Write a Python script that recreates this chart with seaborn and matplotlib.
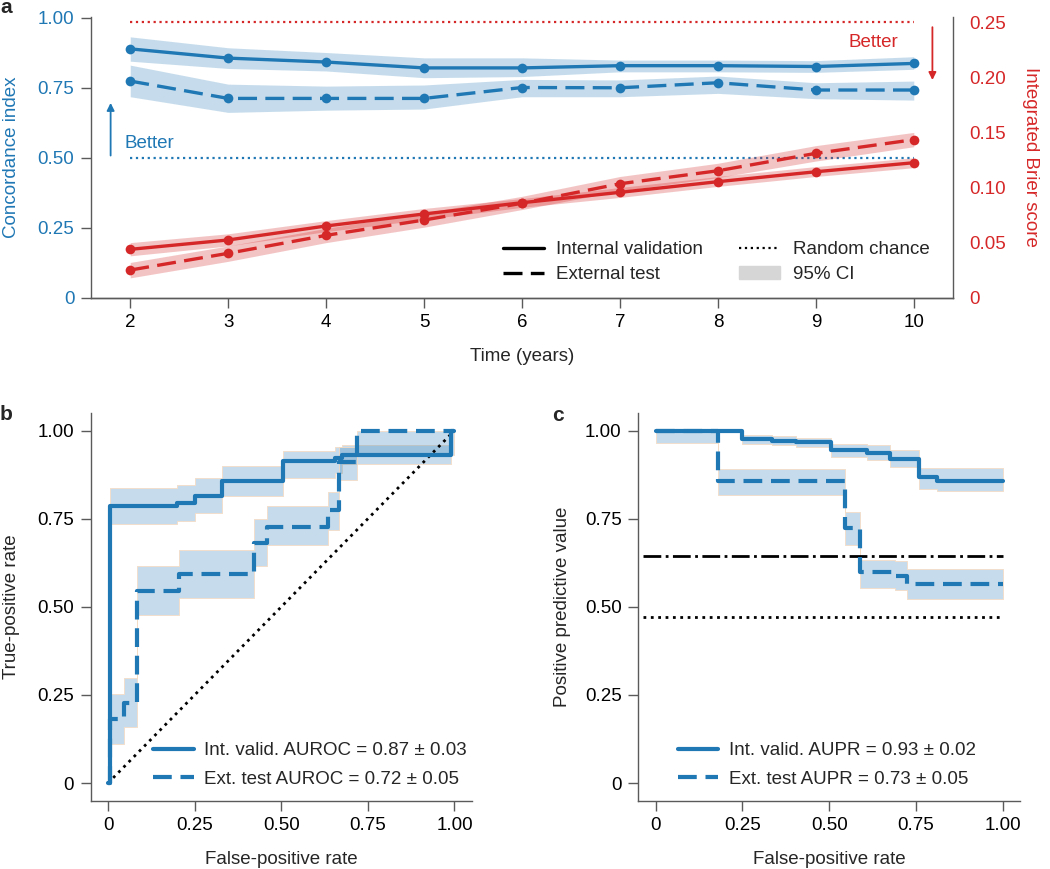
import numpy as np
import pandas as pd
import seaborn as sns
import matplotlib.pyplot as plt
from matplotlib.lines import Line2D
from matplotlib.patches import Patch

# ---------------- data ----------------
# a: time-dependent metrics
years = [2, 3, 4, 5, 6, 7, 8, 9, 10]
cidx_int = [0.889, 0.856, 0.842, 0.821, 0.821, 0.829, 0.829, 0.826, 0.837]
cidx_int_lo = [0.845, 0.819, 0.810, 0.786, 0.790, 0.807, 0.807, 0.805, 0.816]
cidx_int_hi = [0.932, 0.893, 0.876, 0.857, 0.857, 0.849, 0.849, 0.847, 0.861]
cidx_ext = [0.774, 0.712, 0.712, 0.712, 0.751, 0.750, 0.768, 0.742, 0.742]
cidx_ext_lo = [0.718, 0.662, 0.670, 0.674, 0.718, 0.718, 0.730, 0.711, 0.706]
cidx_ext_hi = [0.831, 0.763, 0.756, 0.760, 0.780, 0.778, 0.792, 0.768, 0.774]
brier_int = [0.0439, 0.0524, 0.0651, 0.0760, 0.0862, 0.0956, 0.1053, 0.1143, 0.1225]
brier_int_lo = [0.038, 0.047, 0.060, 0.071, 0.082, 0.091, 0.101, 0.110, 0.118]
brier_int_hi = [0.050, 0.058, 0.070, 0.081, 0.090, 0.100, 0.110, 0.119, 0.127]
brier_ext = [0.0251, 0.0403, 0.0566, 0.0705, 0.0857, 0.1034, 0.1152, 0.1310, 0.1434]
brier_ext_lo = [0.018, 0.033, 0.050, 0.064, 0.080, 0.097, 0.109, 0.124, 0.137]
brier_ext_hi = [0.032, 0.047, 0.063, 0.077, 0.092, 0.110, 0.122, 0.138, 0.150]
cidx_chance = 0.5
brier_chance = 0.25

# b: ROC curves (step points)
roc_int_x = [0, 0.007, 0.20, 0.25, 0.33, 0.505, 0.655, 0.675, 0.99, 1.0]
roc_int_y = [0, 0.785, 0.795, 0.815, 0.857, 0.913, 0.922, 0.932, 1.0, 1.0]
roc_int_lo = [0, 0.735, 0.745, 0.765, 0.815, 0.865, 0.880, 0.905, 1.0, 1.0]
roc_int_hi = [0, 0.837, 0.846, 0.866, 0.899, 0.943, 0.955, 0.958, 1.0, 1.0]
roc_ext_x = [0, 0.007, 0.045, 0.085, 0.205, 0.42, 0.46, 0.635, 0.668, 0.72, 1.0]
roc_ext_y = [0, 0.183, 0.228, 0.545, 0.592, 0.68, 0.728, 0.775, 0.912, 1.0, 1.0]
roc_ext_lo = [0, 0.112, 0.159, 0.477, 0.524, 0.615, 0.676, 0.718, 0.861, 0.93, 0.93]
roc_ext_hi = [0, 0.254, 0.299, 0.617, 0.662, 0.750, 0.785, 0.827, 0.955, 1.0, 1.0]
roc_chance = [0, 1]

# c: precision curves (step points)
pr_int_x = [0, 0.25, 0.335, 0.405, 0.505, 0.61, 0.675, 0.76, 0.81, 1.0]
pr_int_y = [1.0, 0.977, 0.972, 0.968, 0.945, 0.937, 0.920, 0.869, 0.858, 0.858]
pr_int_lo = [1.0, 0.962, 0.958, 0.955, 0.925, 0.918, 0.898, 0.835, 0.830, 0.830]
pr_int_hi = [1.0, 0.988, 0.985, 0.980, 0.962, 0.958, 0.944, 0.895, 0.895, 0.895]
pr_ext_x = [0, 0.18, 0.545, 0.59, 0.69, 0.725, 1.0]
pr_ext_y = [1.0, 0.856, 0.723, 0.599, 0.588, 0.565, 0.565]
pr_ext_lo = [0.965, 0.818, 0.676, 0.553, 0.548, 0.521, 0.521]
pr_ext_hi = [1.0, 0.892, 0.768, 0.633, 0.630, 0.607, 0.607]
ppv_chance_int = 0.47
ppv_chance_ext = 0.643
ppv_line_x = [-0.035, 1.0]

# tick labels
year_ticks = years
cidx_ticks = [0, 0.25, 0.5, 0.75, 1.0]
cidx_ticklabels = ['0', '0.25', '0.50', '0.75', '1.00']
brier_ticks = [0, 0.05, 0.10, 0.15, 0.20, 0.25]
brier_ticklabels = ['0', '0.05', '0.10', '0.15', '0.20', '0.25']
rate_ticks = [0, 0.25, 0.5, 0.75, 1.0]
rate_ticklabels = ['0', '0.25', '0.50', '0.75', '1.00']

leg_a_labels = ['Internal validation', 'External test', 'Random chance', '95% CI']
leg_b_labels = ['Int. valid. AUROC = 0.87 \u00b1 0.03', 'Ext. test AUROC = 0.72 \u00b1 0.05']
leg_c_labels = ['Int. valid. AUPR = 0.93 \u00b1 0.02', 'Ext. test AUPR = 0.73 \u00b1 0.05']

# ---------------- style ----------------
BLUE = '#1f77b4'
RED = '#d62728'
GREY = '#5a5a5a'
BAND_B = (31 / 255, 119 / 255, 180 / 255, 0.25)
BAND_R = (214 / 255, 39 / 255, 40 / 255, 0.27)

sns.set_style('ticks')
plt.rcParams['font.family'] = ['Liberation Sans', 'DejaVu Sans']
plt.rcParams.update({
    'font.size': 13,
    'axes.edgecolor': GREY,
    'axes.linewidth': 1.0,
    'xtick.color': GREY, 'ytick.color': GREY,
    'xtick.labelcolor': 'black', 'ytick.labelcolor': 'black',
    'xtick.major.size': 7, 'ytick.major.size': 7,
    'xtick.major.width': 1.0, 'ytick.major.width': 1.0,
    'xtick.major.pad': 5, 'ytick.major.pad': 5,
    'xtick.labelsize': 13.5, 'ytick.labelsize': 13.5,
})

DASH_A = (0, (5.7, 2.5))
DASH_B = (0, (4.5, 2.1))

fig = plt.figure(figsize=(10.5, 8.69), dpi=100)

# ---------------- a ----------------
ax = fig.add_axes([0.0867, 0.6574, 0.8209, 0.3234])
ax2 = ax.twinx()

ax.hlines(cidx_chance, years[0], years[-1], color=BLUE, ls=':', lw=1.6)
ax.fill_between(years, cidx_int_lo, cidx_int_hi, color=BAND_B, lw=0)
ax.fill_between(years, cidx_ext_lo, cidx_ext_hi, color=BAND_B, lw=0)
sns.lineplot(x=years, y=cidx_int, ax=ax, color=BLUE, lw=2.4, marker='o', ms=7, mew=0,
             errorbar=None)
sns.lineplot(x=years, y=cidx_ext, ax=ax, color=BLUE, lw=2.4, ls=DASH_A, marker='o', ms=7,
             mew=0, errorbar=None)

ax2.hlines(brier_chance, years[0], years[-1], color=RED, ls=':', lw=1.6)
ax2.fill_between(years, brier_int_lo, brier_int_hi, color=BAND_R, lw=0)
ax2.fill_between(years, brier_ext_lo, brier_ext_hi, color=BAND_R, lw=0)
sns.lineplot(x=years, y=brier_int, ax=ax2, color=RED, lw=2.4, marker='o', ms=7, mew=0,
             errorbar=None)
sns.lineplot(x=years, y=brier_ext, ax=ax2, color=RED, lw=2.4, ls=DASH_A, marker='o', ms=7,
             mew=0, errorbar=None)

ax.set_xlim(1.6, 10.4)
ax.set_ylim(0, 1.004)
ax2.set_ylim(0, 0.255)
ax.set_xticks(year_ticks)
ax.set_yticks(cidx_ticks)
ax.set_yticklabels(cidx_ticklabels)
ax.tick_params(axis='y', labelcolor=BLUE)
ax2.set_yticks(brier_ticks)
ax2.set_yticklabels(brier_ticklabels)
ax2.tick_params(axis='y', labelcolor=RED)
sns.despine(ax=ax, top=True, right=True)
sns.despine(ax=ax2, top=True, right=False, left=True)

ax.set_xlabel('Time (years)', fontsize=13.5, va='top')
ax.xaxis.set_label_coords(0.5, -0.178)
ax.set_ylabel('Concordance index', color=BLUE, fontsize=13.5)
ax.yaxis.set_label_coords(-0.082, 0.5)
ax2.set_ylabel('Integrated Brier score', color=RED, fontsize=13.5, rotation=270, va='bottom')
ax2.yaxis.set_label_coords(1.0795, 0.5)

ax.annotate('', xy=(1.80, 0.706), xytext=(1.80, 0.498),
            arrowprops=dict(arrowstyle='-|>', color=BLUE, lw=1.3, mutation_scale=11))
ax.text(1.94, 0.552, 'Better', color=BLUE, fontsize=13.5, ha='left', va='center')
ax2.annotate('', xy=(10.19, 0.195), xytext=(10.19, 0.248),
             arrowprops=dict(arrowstyle='-|>', color=RED, lw=1.3, mutation_scale=11))
ax2.text(9.84, 0.232, 'Better', color=RED, fontsize=13.5, ha='right', va='center')

leg_a_handles = [Line2D([], [], color='black', lw=2.4),
                 Line2D([], [], color='black', lw=2.4, ls=DASH_A),
                 Line2D([], [], color='black', lw=1.6, ls=':'),
                 Patch(color='#d6d6d6')]
ax2.legend(leg_a_handles, leg_a_labels, ncol=2, loc='lower left', bbox_to_anchor=(0.478, 0.052),
           frameon=False, fontsize=13.5, handlelength=2.2, handletextpad=0.65,
           columnspacing=1.9, labelspacing=0.42, borderpad=0, borderaxespad=0)

# ---------------- b ----------------
axb = fig.add_axes([0.0864, 0.0786, 0.3629, 0.4461])
axb.plot(roc_chance, roc_chance, color='black', ls=':', lw=2)
axb.fill_between(roc_int_x, roc_int_lo, roc_int_hi, step='post', facecolor=BAND_B,
                 edgecolor='#f4dcc4', lw=0.6)
axb.fill_between(roc_ext_x, roc_ext_lo, roc_ext_hi, step='post', facecolor=BAND_B,
                 edgecolor='#f4dcc4', lw=0.6)
sns.lineplot(x=roc_int_x, y=roc_int_y, ax=axb, color=BLUE, lw=3, drawstyle='steps-post',
             estimator=None, sort=False, errorbar=None)
sns.lineplot(x=roc_ext_x, y=roc_ext_y, ax=axb, color=BLUE, lw=3, ls=DASH_B,
             drawstyle='steps-post', estimator=None, sort=False, errorbar=None)
axb.set_xlim(-0.05, 1.05)
axb.set_ylim(-0.05, 1.05)
axb.set_xticks(rate_ticks)
axb.set_xticklabels(rate_ticklabels)
axb.set_yticks(rate_ticks)
axb.set_yticklabels(rate_ticklabels)
sns.despine(ax=axb)
axb.set_xlabel('False-positive rate', fontsize=13.5, va='top')
axb.xaxis.set_label_coords(0.5, -0.13)
axb.set_ylabel('True-positive rate', fontsize=13.5)
axb.yaxis.set_label_coords(-0.185, 0.5)
leg_bc_handles = [Line2D([], [], color=BLUE, lw=3), Line2D([], [], color=BLUE, lw=3, ls=DASH_B)]
axb.legend(leg_bc_handles, leg_b_labels, loc='lower left', bbox_to_anchor=(0.164, 0.033),
           frameon=False, fontsize=13.5, handlelength=2.15, handletextpad=0.55,
           labelspacing=0.62, borderpad=0, borderaxespad=0)

# ---------------- c ----------------
axc = fig.add_axes([0.6079, 0.0786, 0.3635, 0.4461])
axc.hlines(ppv_chance_ext, ppv_line_x[0], ppv_line_x[1], color='black', ls='-.', lw=2)
axc.hlines(ppv_chance_int, ppv_line_x[0], ppv_line_x[1], color='black', ls=':', lw=2)
axc.fill_between(pr_int_x, pr_int_lo, pr_int_hi, step='post', facecolor=BAND_B,
                 edgecolor='#f4dcc4', lw=0.6)
axc.fill_between(pr_ext_x, pr_ext_lo, pr_ext_hi, step='post', facecolor=BAND_B,
                 edgecolor='#f4dcc4', lw=0.6)
sns.lineplot(x=pr_ext_x, y=pr_ext_y, ax=axc, color=BLUE, lw=3, ls=DASH_B,
             drawstyle='steps-post', estimator=None, sort=False, errorbar=None)
sns.lineplot(x=pr_int_x, y=pr_int_y, ax=axc, color=BLUE, lw=3, drawstyle='steps-post',
             estimator=None, sort=False, errorbar=None)
axc.set_xlim(-0.05, 1.05)
axc.set_ylim(-0.05, 1.05)
axc.set_xticks(rate_ticks)
axc.set_xticklabels(rate_ticklabels)
axc.set_yticks(rate_ticks)
axc.set_yticklabels(rate_ticklabels)
sns.despine(ax=axc)
axc.set_xlabel('False-positive rate', fontsize=13.5, va='top')
axc.xaxis.set_label_coords(0.5, -0.13)
axc.set_ylabel('Positive predictive value', fontsize=13.5)
axc.yaxis.set_label_coords(-0.176, 0.5)
axc.legend(leg_bc_handles, leg_c_labels, loc='lower left', bbox_to_anchor=(0.104, 0.033),
           frameon=False, fontsize=13.5, handlelength=2.15, handletextpad=0.55,
           labelspacing=0.62, borderpad=0, borderaxespad=0)

# panel letters
fig.text(0.0, 1 - 7.5 / 869, 'a', fontsize=15, fontweight='bold', va='center', ha='left')
fig.text(0.0, 1 - 414 / 869, 'b', fontsize=15, fontweight='bold', va='center', ha='left')
fig.text(552 / 1050, 1 - 415 / 869, 'c', fontsize=15, fontweight='bold', va='center', ha='left')

fig.savefig('out.png', dpi=100)
